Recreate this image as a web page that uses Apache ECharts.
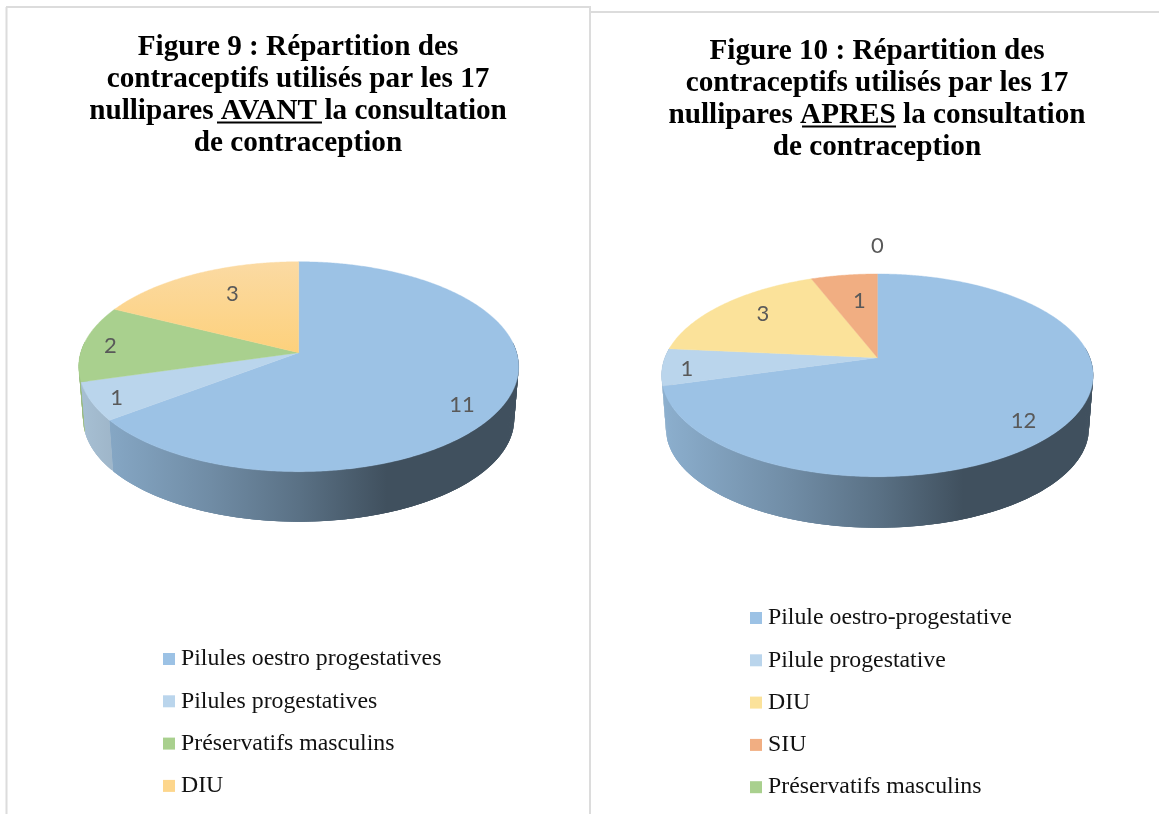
<!DOCTYPE html>
<html><head><meta charset="utf-8">
<style>html,body{margin:0;padding:0;background:#fff}#c{width:1159px;height:814px}</style>
<script src="https://cdn.jsdelivr.net/npm/echarts@6/dist/echarts.min.js"></script>
</head><body><div id="c"></div>
<script>
const categoriesAvant = ['Pilules oestro progestatives','Pilules progestatives','Préservatifs masculins','DIU'];
const valuesAvant = [11,1,2,3];
const colorsAvant = ['#9cc2e5','#bad5ec','#a9d08e','#fdd68c'];
const categoriesApres = ['Pilule oestro-progestative','Pilule progestative','DIU','SIU','Préservatifs masculins'];
const valuesApres = [12,1,3,1,0];
const colorsApres = ['#9cc2e5','#bad5ec','#fbe29a','#f1ae82','#a9d08e'];
const titleAvant = 'Figure 9 : Répartition des\ncontraceptifs utilisés par les 17\nnullipares AVANT la consultation\nde contraception';
const titleApres = 'Figure 10 : Répartition des\ncontraceptifs utilisés par les 17\nnullipares APRES la consultation\nde contraception';

const layouts = [
  {cats:categoriesAvant, vals:valuesAvant, cols:colorsAvant, cx:298.7, cy:352.7, a:103.1, b:218, k:0.1333, s:0.98, d:52.4,
   grad:{3:['#fbdaa3','#fdd17c']},
   nudge:[[10,16],[-29,9],[-27,0],[13,2]], legendLeft:163, legendTop:647, title:titleAvant, titleX:298, titleY:31.5},
  {cats:categoriesApres, vals:valuesApres, cols:colorsApres, cx:877.4, cy:357.7, a:98.3, b:212.5, k:0.174, s:0.98, d:53.4,
   grad:{},
   nudge:[[8,15],[-30,4],[3.5,-2.5],[8,7.5],[0,-46.5]], legendLeft:750, legendTop:606, title:titleApres, titleX:877, titleY:35.5}
];
const DEG = Math.PI/180;
function proj(L,thetaDeg,r,bottom){
  const u=Math.sin(thetaDeg*DEG)*r, v=Math.cos(thetaDeg*DEG)*r, w=1+L.k*v;
  let x=L.b*u/w, y=-L.a*v/w;
  if(bottom){x*=L.s;y=y*L.s+L.d;}
  return [L.cx+x,L.cy+y];
}
function arc(L,a0,a1,bottom){const pts=[];const n=Math.max(2,Math.ceil((a1-a0)*2));
  for(let i=0;i<=n;i++)pts.push(proj(L,a0+(a1-a0)*i/n,1,bottom));return pts;}
function shadeHex(h,m){const n=parseInt(h.slice(1),16);
  const c=[n>>16,(n>>8)&255,n&255].map(v=>Math.round(v*m));return `rgb(${c[0]},${c[1]},${c[2]})`;}
function sideFill(L,col){const x0=L.cx-L.b*1.01,x1=L.cx+L.b*1.01;
  return {type:'linear',global:true,x:x0,y:0,x2:x1,y2:0,colorStops:[
    {offset:0,color:shadeHex(col,0.90)},{offset:0.3,color:shadeHex(col,0.72)},{offset:0.5,color:shadeHex(col,0.58)},
    {offset:0.7,color:shadeHex(col,0.41)},{offset:1,color:shadeHex(col,0.41)}]};}

const series=[]; const legends=[]; const titles=[];
layouts.forEach(L=>{
  const total=L.vals.reduce((p,c)=>p+c,0);
  const spans=[];let acc=0;
  L.vals.forEach(v=>{const s=acc/total*360;acc+=v;spans.push([s,acc/total*360]);});
  const order=spans.map((s,i)=>i).filter(i=>L.vals[i]>0)
    .sort((p,q)=>Math.cos((spans[q][0]+spans[q][1])/2*DEG)-Math.cos((spans[p][0]+spans[p][1])/2*DEG));
  // walls: clip each slice to the visible front, then join the rims with overlapping quads
  series.push({type:'custom',coordinateSystem:'none',silent:true,z:2,
    data:order.map(i=>[spans[i][0],spans[i][1],i]),
    renderItem(p,api){let a0=api.value(0),a1=api.value(1),i=api.value(2);
      a0=Math.max(a0,84);a1=Math.min(a1,276);
      if(a1<=a0)return {type:'group',children:[]};
      const fill=sideFill(L,L.cols[i]);
      const top=arc(L,a0,a1,false),bot=arc(L,a0,a1,true);
      const children=[];
      for(let j=0;j<top.length-1;j++){
        const e=Math.min(j+3,top.length-1);
        children.push({type:'polygon',shape:{points:[top[j],top[e],bot[e],bot[j]]},style:{fill}});
      }
      return {type:'group',children};}});
  L.cats.forEach((name,i)=>{
    series.push({type:'custom',name,coordinateSystem:'none',silent:true,z:3,itemStyle:{color:L.cols[i]},
      data:[[spans[i][0],spans[i][1]]],
      renderItem(p,api){const a0=api.value(0),a1=api.value(1);
        if(a1<=a0)return {type:'group',children:[]};
        const g=L.grad[i];
        const pts=[[L.cx,L.cy]].concat(arc(L,a0,a1,false));
        const fill=g?{type:'linear',global:true,x:0,y:L.cy-L.a/(1+L.k),x2:0,y2:L.cy,
          colorStops:[{offset:0,color:g[0]},{offset:1,color:g[1]}]}:L.cols[i];
        return {type:'polygon',shape:{points:pts},style:{fill,stroke:fill,lineWidth:0.4}};}});
  });
  series.push({type:'custom',coordinateSystem:'none',silent:true,z:4,
    data:L.vals.map((v,i)=>[(spans[i][0]+spans[i][1])/2,v,i]),
    renderItem(p,api){const m=api.value(0),v=api.value(1),i=api.value(2);
      const q=proj(L,m,0.75,false);
      return {type:'text',x:q[0]+L.nudge[i][0],y:q[1]+L.nudge[i][1],
        style:{text:String(v),fill:'#595959',font:'22px Lato',textAlign:'center',textVerticalAlign:'middle'}};}});
  legends.push({orient:'vertical',left:L.legendLeft,top:L.legendTop,padding:0,itemGap:18.3,itemWidth:12,itemHeight:12,icon:'rect',
    selectedMode:false,textStyle:{fontFamily:'Liberation Serif',fontSize:23.8,color:'#111',height:24,lineHeight:24,padding:[0,0,0,1]},
    data:L.cats.map((name,i)=>({name,itemStyle:{color:L.cols[i]}}))});
  titles.push({text:L.title,left:L.titleX,top:L.titleY,textAlign:'center',padding:0,
    textStyle:{fontFamily:'Liberation Serif',fontWeight:'bold',fontSize:29.2,lineHeight:32,color:'#000'}});
});
const border='#dcdcdc';
const rule=(x1,y1,x2,y2,c,w)=>({type:'line',shape:{x1,y1,x2,y2},style:{stroke:c,lineWidth:w},silent:true});
const graphic=[
  rule(6.5,7,6.5,814,border,2), rule(6,7,591,7,border,2), rule(590,7,590,814,border,2), rule(590,12,1159,12,border,2),
  rule(217,122.5,322,122.5,'#000',2), rule(802,126.5,896,126.5,'#000',2)
];
const chart=echarts.init(document.getElementById('c'),null,{renderer:'canvas'});
chart.setOption({animation:false,backgroundColor:'#fff',title:titles,legend:legends,series,graphic});
</script></body></html>
